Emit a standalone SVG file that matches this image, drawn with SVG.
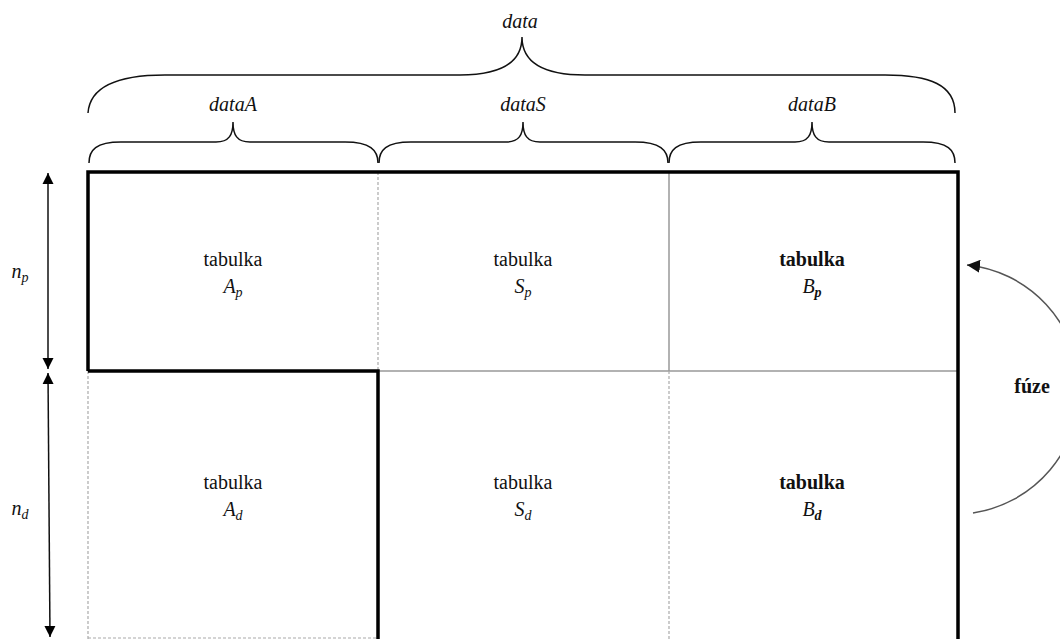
<svg xmlns="http://www.w3.org/2000/svg" width="1060" height="639" viewBox="0 0 1060 639">
<style>
.t{font-size:20px;fill:#111;text-anchor:middle}
.i{font-style:italic}
.b{font-weight:bold}
.brace{fill:none;stroke:#111;stroke-width:1.5}
.thick{stroke:#000;stroke-width:3.5;fill:none}
.thin{stroke:#999;stroke-width:1.5;fill:none}
.dot{stroke:#aaa;stroke-width:1.2;stroke-dasharray:3,2;fill:none}
.dim{stroke:#111;stroke-width:1.5;fill:none}
</style>
<defs>
<marker id="ah" viewBox="0 0 10 10" refX="10" refY="5" markerWidth="11" markerHeight="12" markerUnits="userSpaceOnUse" orient="auto-start-reverse">
<path d="M0,0 L10,5 L0,10 z" fill="#000"/>
</marker>
<marker id="ah2" viewBox="0 0 10 10" refX="10" refY="5" markerWidth="13" markerHeight="13" markerUnits="userSpaceOnUse" orient="auto">
<path d="M0,0 L10,5 L0,10 z" fill="#111"/>
</marker>
</defs>
<rect width="1060" height="639" fill="#fff"/>
<g font-family="Liberation Serif, DejaVu Serif, serif">
<g id="braces">
<path class="brace" d="M88 113 C90 85 120 75 165 75 L460 75 C505 75 522 60 522 37 C522 60 540 75 585 75 L885 75 C930 75 955 85 955 113"/>
<text class="t i" x="520" y="28">data</text>
<path class="brace" d="M89 163 C89 150 96 142 121 142 L216 142 C229 142 233 135 233 122 C233 135 237 142 250 142 L345 142 C370 142 378 150 378 163"/>
<text class="t i" x="233" y="111">dataA</text>
<path class="brace" d="M379 163 C379 150 386 142 411 142 L506 142 C519 142 523 135 523 122 C523 135 527 142 540 142 L635 142 C660 142 668 150 668 163"/>
<text class="t i" x="523" y="111">dataS</text>
<path class="brace" d="M669 163 C669 150 676 142 701 142 L795 142 C808 142 812 135 812 122 C812 135 816 142 829 142 L923 142 C948 142 955 150 955 163"/>
<text class="t i" x="812" y="111">dataB</text>
</g>

<g id="grid">
<line class="dot" x1="378" y1="172" x2="378" y2="371"/>
<line class="thin" x1="669" y1="172" x2="669" y2="371"/>
<line class="thin" x1="378" y1="371" x2="958" y2="371"/>
<line class="dot" x1="669" y1="371" x2="669" y2="639"/>
<line class="dot" x1="88" y1="371" x2="88" y2="639"/>
<line class="dot" x1="88" y1="638" x2="378" y2="638"/>
<path class="thick" d="M88 371 L88 172 L958 172 L958 639"/>
<path class="thick" d="M88 371 L378 371 L378 639"/>
</g>

<g id="cell-Ap"><text class="t" x="233" y="266">tabulka</text><text class="t i" x="233" y="293">A<tspan font-size="14" dy="4">p</tspan></text></g>
<g id="cell-Sp"><text class="t" x="523" y="266">tabulka</text><text class="t i" x="523" y="293">S<tspan font-size="14" dy="4">p</tspan></text></g>
<g id="cell-Bp"><text class="t b" x="812" y="266">tabulka</text><text class="t i" x="812" y="293">B<tspan font-size="14" font-weight="bold" dy="4">p</tspan></text></g>
<g id="cell-Ad"><text class="t" x="233" y="489">tabulka</text><text class="t i" x="233" y="516">A<tspan font-size="14" dy="4">d</tspan></text></g>
<g id="cell-Sd"><text class="t" x="523" y="489">tabulka</text><text class="t i" x="523" y="516">S<tspan font-size="14" dy="4">d</tspan></text></g>
<g id="cell-Bd"><text class="t b" x="812" y="489">tabulka</text><text class="t i" x="812" y="516">B<tspan font-size="14" font-weight="bold" dy="4">d</tspan></text></g>

<g id="dims">
<line class="dim" x1="48" y1="173" x2="48" y2="369" marker-start="url(#ah)" marker-end="url(#ah)"/>
<line class="dim" x1="48" y1="373" x2="50" y2="637" marker-start="url(#ah)" marker-end="url(#ah)"/>
<text class="t i" x="20" y="278">n<tspan font-size="14" dy="4">p</tspan></text>
<text class="t i" x="20" y="515">n<tspan font-size="14" dy="4">d</tspan></text>
</g>

<g id="connectors">
<path d="M973 513 A125 125 0 0 0 967 265" fill="none" stroke="#555" stroke-width="1.5" marker-end="url(#ah2)"/>
</g>
<g id="label-fuze"><text class="t b" x="1032" y="393">fúze</text></g>
</g>
</svg>
